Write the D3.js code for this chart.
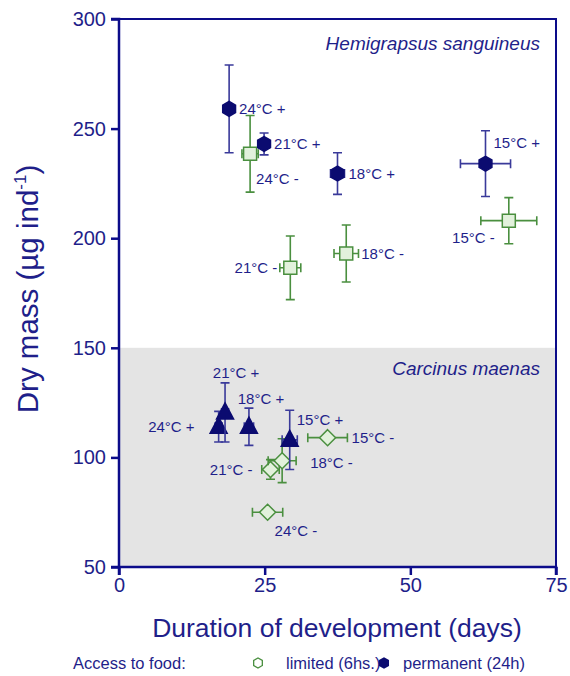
<!DOCTYPE html>
<html><head><meta charset="utf-8">
<script src="https://cdn.jsdelivr.net/npm/d3@7"></script>
<style>body{margin:0;background:#fff;} svg{display:block;font-family:"Liberation Sans",Arial,sans-serif;}</style>
</head><body><svg id="c" width="570" height="676"></svg>
<script>
// Hemigrapsus sanguineus, permanent food (24h)
const hemiPermLabels = ["24°C +","21°C +","18°C +","15°C +"];
const hemiPermX = [18.9, 24.9, 37.5, 62.9];
const hemiPermXErr = [0, 0.8, 1.2, 4.3];
const hemiPermY = [259, 243, 229.5, 234];
const hemiPermYErr = [20, 5, 9.5, 15];
// Hemigrapsus sanguineus, limited food (6h)
const hemiLimLabels = ["24°C -","21°C -","18°C -","15°C -"];
const hemiLimX = [22.5, 29.4, 39.0, 66.9];
const hemiLimXErr = [1.4, 1.8, 2.1, 4.8];
const hemiLimY = [238.5, 186.5, 193, 208];
const hemiLimYErr = [17.5, 14.5, 13, 10.5];
// Carcinus maenas, permanent food (24h)
const carcPermLabels = ["24°C +","21°C +","18°C +","15°C +"];
const carcPermX = [17.1, 18.2, 22.3, 29.3];
const carcPermXErr = [0.6, 0.6, 0.8, 1.3];
const carcPermY = [114, 120.5, 114, 108];
const carcPermYErr = [7, 13.5, 8.5, 13.5];
// Carcinus maenas, limited food (6h)
const carcLimLabels = ["24°C -","21°C -","18°C -","15°C -"];
const carcLimX = [25.5, 26.0, 28.0, 35.8];
const carcLimXErr = [2.6, 1.5, 2.4, 3.4];
const carcLimY = [75, 94.5, 98.5, 109];
const carcLimYErr = [0, 4.5, 10, 0];
const xTicks = [0, 25, 50, 75];
const yTicks = [50, 100, 150, 200, 250, 300];

const navy = "#0b0b70", textC = "#1f1f8a", axisC = "#0c0c8a", barNavy = "#3a3a9a";
const green = "#4a8f3f", greenFill = "#e2f1dc";

const svg = d3.select("#c");
const x = d3.scaleLinear().domain([0, 75]).range([119, 556]);
const y = d3.scaleLinear().domain([50, 300]).range([567, 19]);

// grey region for Carcinus
svg.append("rect").attr("x", x(0)).attr("y", y(150)).attr("width", x(75) - x(0)).attr("height", y(50) - y(150)).attr("fill", "#e4e4e4");
// frame top/right
svg.append("path").attr("d", `M${x(0)},${y(300)}H${x(75)}V${y(50)}`).attr("fill", "none").attr("stroke", axisC).attr("stroke-width", 2);

const xAxis = svg.append("g").attr("transform", `translate(0,${y(50)})`).call(d3.axisBottom(x).tickValues(xTicks).tickSize(8).tickPadding(3));
const yAxis = svg.append("g").attr("transform", `translate(${x(0)},0)`).call(d3.axisLeft(y).tickValues(yTicks).tickSize(8).tickPadding(5));
[xAxis, yAxis].forEach(g => {
  g.select(".domain").attr("stroke", axisC).attr("stroke-width", 2.5);
  g.selectAll(".tick line").attr("stroke", axisC).attr("stroke-width", 2.5);
  g.selectAll(".tick text").attr("fill", textC).attr("font-size", 20).attr("font-family", "Liberation Sans, Arial, sans-serif");
});
xAxis.select(".domain").attr("d", `M${x(0)},8V0H${x(75)}V8`);
yAxis.select(".domain").attr("d", `M-8,${y(300)}H0V${y(50)}H-8`);

// axis titles
svg.append("text").attr("x", 337).attr("y", 637).attr("text-anchor", "middle").attr("fill", textC).attr("font-size", 26.5).text("Duration of development (days)");
const yt = svg.append("text").attr("transform", "translate(38,289) rotate(-90)").attr("text-anchor", "middle").attr("fill", textC).attr("font-size", 29.5);
yt.append("tspan").text("Dry mass (µg ind");
yt.append("tspan").attr("font-size", 17).attr("dy", -12).text("-1");
yt.append("tspan").attr("dy", 12).text(")");

// species titles
svg.append("text").attr("x", 540).attr("y", 50).attr("text-anchor", "end").attr("font-style", "italic").attr("fill", textC).attr("font-size", 19).text("Hemigrapsus sanguineus");
svg.append("text").attr("x", 540).attr("y", 375).attr("text-anchor", "end").attr("font-style", "italic").attr("fill", textC).attr("font-size", 19).text("Carcinus maenas");

const hexPath = r => { let p = ""; for (let i = 0; i < 6; i++) { const a = Math.PI / 6 + i * Math.PI / 3; p += (i ? "L" : "M") + (r * Math.cos(a)).toFixed(2) + "," + (r * Math.sin(a)).toFixed(2); } return p + "Z"; };
const shapes = {
  hex: hexPath(7.4),
  square: "M-6.5,-6.5H6.5V6.5H-6.5Z",
  diamond: "M0,-8L8,0L0,8L-8,0Z",
  tri: "M0,-9.5L8.5,6.5H-8.5Z"
};

function series(X, XE, Y, YE, shape, stroke, fill, barC) {
  const g = svg.append("g");
  X.forEach((xv, i) => {
    const cx = x(xv), cy = y(Y[i]);
    const bars = g.append("g").attr("stroke", barC).attr("stroke-width", 1.6).attr("fill", "none");
    if (YE[i] > 0) {
      const y1 = y(Y[i] + YE[i]), y2 = y(Y[i] - YE[i]);
      bars.append("path").attr("d", `M${cx},${y1}V${y2}M${cx - 4.5},${y1}H${cx + 4.5}M${cx - 4.5},${y2}H${cx + 4.5}`);
    }
    if (XE[i] > 0) {
      const x1 = x(xv - XE[i]), x2 = x(xv + XE[i]);
      bars.append("path").attr("d", `M${x1},${cy}H${x2}M${x1},${cy - 4.5}V${cy + 4.5}M${x2},${cy - 4.5}V${cy + 4.5}`);
    }
    g.append("path").attr("d", shapes[shape]).attr("transform", `translate(${cx},${cy})`).attr("fill", fill).attr("stroke", stroke).attr("stroke-width", 1.5);
  });
}
series(hemiLimX, hemiLimXErr, hemiLimY, hemiLimYErr, "square", green, greenFill, green);
series(hemiPermX, hemiPermXErr, hemiPermY, hemiPermYErr, "hex", navy, navy, barNavy);
series(carcLimX, carcLimXErr, carcLimY, carcLimYErr, "diamond", green, greenFill, green);
series(carcPermX, carcPermXErr, carcPermY, carcPermYErr, "tri", navy, navy, barNavy);

// point labels: offsets [dx, dy, anchor]
function labels(L, X, Y, offs) {
  L.forEach((t, i) => {
    const o = offs[i];
    svg.append("text").attr("x", x(X[i]) + o[0]).attr("y", y(Y[i]) + o[1] + 5.5).attr("text-anchor", o[2]).attr("fill", textC).attr("font-size", 15).text(t);
  });
}
labels(hemiPermLabels, hemiPermX, hemiPermY, [[10, 0, "start"], [10, 0, "start"], [11, 0, "start"], [8, -21, "start"]]);
labels(hemiLimLabels, hemiLimX, hemiLimY, [[6, 25, "start"], [-13, 0, "end"], [15, 0, "start"], [-14, 17, "end"]]);
labels(carcPermLabels, carcPermX, carcPermY, [[-24, 0, "end"], [11, -40, "middle"], [12, -28, "middle"], [7, -20, "start"]]);
labels(carcLimLabels, carcLimX, carcLimY, [[7, 18, "start"], [-18, 0, "end"], [28, 2, "start"], [24, 0, "start"]]);

// legend
const leg = svg.append("g").attr("fill", textC).attr("font-size", 16.5);
leg.append("text").attr("x", 73).attr("y", 669).text("Access to food:");
svg.append("path").attr("d", hexPath(5)).attr("transform", "translate(258,663)").attr("fill", "#fff").attr("stroke", green).attr("stroke-width", 1.3);
leg.append("text").attr("x", 286).attr("y", 669).text("limited (6hs.)");
svg.append("path").attr("d", hexPath(5.8)).attr("transform", "translate(384,663)").attr("fill", navy);
leg.append("text").attr("x", 403).attr("y", 669).text("permanent (24h)");
</script></body></html>
